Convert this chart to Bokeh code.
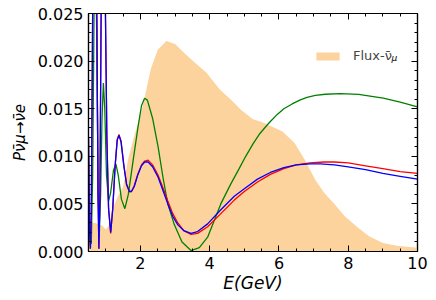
from bokeh.plotting import figure
from bokeh.models import (Range1d, LinearAxis, Label, Legend, LegendItem, PrintfTickFormatter,
                          SingleIntervalTicker, CustomJSTickFormatter)
from bokeh.embed import file_html
from bokeh.resources import INLINE

# ---- data ----
flux_E = [0.5, 0.7, 0.9, 1.0, 1.1, 1.2, 1.35, 1.5, 1.65, 1.85, 2.05, 2.3, 2.5, 2.75, 3.0, 3.25,
          3.55, 3.9, 4.3, 4.6, 4.9, 5.25, 5.5, 5.7, 6.1, 6.45, 6.75, 7.05, 7.3, 7.6, 7.9, 8.25,
          8.6, 9.0, 9.4, 9.7, 10.0]
flux_P = [0.0030, 0.0030, 0.0027, 0.0023, 0.0028, 0.0045, 0.0058, 0.0068, 0.0098, 0.0125, 0.0150,
          0.0192, 0.0212, 0.0221, 0.0218, 0.0209, 0.0199, 0.0188, 0.0170, 0.0160, 0.0149, 0.0139,
          0.0136, 0.0133, 0.0126, 0.0114, 0.0096, 0.0075, 0.0062, 0.0050, 0.0037, 0.0026, 0.0016,
          0.0009, 0.0006, 0.0005, 0.0004]

blue_E = [0.50, 0.53, 0.555, 0.58, 0.62, 0.68, 0.74, 0.775, 0.80, 0.83, 0.87, 0.93, 0.98, 1.03,
          1.08, 1.14, 1.20, 1.27, 1.33, 1.38, 1.44, 1.52, 1.60, 1.68, 1.74, 1.82, 1.92, 2.03, 2.12,
          2.22, 2.35, 2.51, 2.65, 2.79, 2.93, 3.08, 3.25, 3.46, 3.65, 3.94, 4.3, 4.71, 5.0, 5.38,
          5.75, 6.14, 6.5, 6.9, 7.2, 7.6, 8.0, 8.5, 9.0, 9.5, 10.0]
blue_P = [0.012, 0.002, 0.0003, 0.004, 0.025, 0.045, 0.025, 0.006, 0.0003, 0.006, 0.028, 0.040,
          0.028, 0.012, 0.0045, 0.0020, 0.0045, 0.0090, 0.0117, 0.0122, 0.0115, 0.0090, 0.0070,
          0.0063, 0.0063, 0.0068, 0.0080, 0.0090, 0.0094, 0.0094, 0.0089, 0.0078, 0.0064, 0.0050,
          0.0037, 0.0028, 0.0022, 0.0019, 0.0021, 0.0029, 0.0043, 0.0058, 0.0066, 0.0076, 0.0083,
          0.0088, 0.0091, 0.0092, 0.0092, 0.0091, 0.0089, 0.0086, 0.0082, 0.0079, 0.0076]

red_E = [0.50, 0.53, 0.555, 0.58, 0.62, 0.68, 0.74, 0.775, 0.80, 0.83, 0.87, 0.93, 0.98, 1.03,
         1.08, 1.14, 1.20, 1.27, 1.33, 1.38, 1.44, 1.52, 1.60, 1.68, 1.74, 1.82, 1.92, 2.03, 2.12,
         2.22, 2.35, 2.51, 2.65, 2.79, 2.93, 3.08, 3.25, 3.46, 3.65, 3.94, 4.3, 4.71, 5.0, 5.38,
         5.75, 6.14, 6.5, 6.9, 7.3, 7.6, 8.0, 8.5, 9.0, 9.5, 10.0]
red_P = [0.012, 0.002, 0.0003, 0.004, 0.025, 0.045, 0.025, 0.006, 0.0003, 0.006, 0.028, 0.040,
         0.028, 0.012, 0.0045, 0.0019, 0.0045, 0.0091, 0.0118, 0.0123, 0.0116, 0.0091, 0.0071,
         0.0063, 0.0063, 0.0069, 0.0081, 0.0091, 0.0095, 0.0096, 0.0091, 0.0080, 0.0067, 0.0053,
         0.0040, 0.0030, 0.0022, 0.0018, 0.0019, 0.0026, 0.0039, 0.0054, 0.0063, 0.0073, 0.0081,
         0.0087, 0.0091, 0.0093, 0.0094, 0.0094, 0.0093, 0.0090, 0.0087, 0.0084, 0.0082]

green_E = [0.50, 0.54, 0.58, 0.62, 0.66, 0.70, 0.74, 0.78, 0.81, 0.85, 0.89, 0.93, 0.97, 1.02,
           1.08, 1.14, 1.22, 1.29, 1.36, 1.45, 1.55, 1.65, 1.79, 1.93, 2.03, 2.12, 2.2, 2.35, 2.51,
           2.65, 2.79, 2.98, 3.2, 3.46, 3.7, 3.94, 4.32, 4.61, 4.85, 5.04, 5.25, 5.45, 5.71, 5.95,
           6.14, 6.38, 6.6, 6.81, 7.05, 7.34, 7.77, 8.3, 9.01, 9.5, 10.0]
green_P = [0.010, 0.003, 0.0008, 0.008, 0.025, 0.032, 0.022, 0.006, 0.0015, 0.006, 0.014, 0.0177,
           0.015, 0.008, 0.0053, 0.0062, 0.0085, 0.0092, 0.0080, 0.0055, 0.0045, 0.0060, 0.0096,
           0.0131, 0.0153, 0.0161, 0.0159, 0.0140, 0.0110, 0.0078, 0.0050, 0.0028, 0.0010, 0.0001,
           0.0004, 0.0015, 0.0050, 0.0071, 0.0087, 0.0100, 0.0113, 0.0124, 0.0135, 0.0144,
           0.0150, 0.0155, 0.0159, 0.0162, 0.0164, 0.01652, 0.01658, 0.0165, 0.0161, 0.0157, 0.0152]

x_min, x_max = 0.5, 10.0
y_min, y_max = 0.0, 0.025

FONT = "DejaVu Sans"
W, H = 436, 300
FL, FB = 88, 251   # frame left / bottom in canvas pixels

p = figure(width=W, height=H, output_backend="svg", toolbar_location=None,
           x_range=Range1d(x_min, x_max), y_range=Range1d(y_min, y_max),
           min_border_left=88, min_border_right=19, min_border_top=13, min_border_bottom=49)
p.grid.visible = False
p.outline_line_color = "black"
p.outline_line_width = 1.2
p.background_fill_color = "white"

flux = p.varea(x=flux_E, y1=0, y2=flux_P, fill_color="#FDD39D")
p.line(green_E, green_P, line_color="green", line_width=1.3)
p.line(red_E, red_P, line_color="red", line_width=1.3)
p.line(blue_E, blue_P, line_color="blue", line_width=1.3)

# axes
xax = p.below[0]
yax = p.left[0]
xax.ticker = SingleIntervalTicker(interval=2, num_minor_ticks=4)
yax.ticker = SingleIntervalTicker(interval=0.005, num_minor_ticks=5)
yax.formatter = PrintfTickFormatter(format="%.3f")
blank = CustomJSTickFormatter(code="return ''")
top_ax = LinearAxis(ticker=SingleIntervalTicker(interval=2, num_minor_ticks=4), formatter=blank)
right_ax = LinearAxis(ticker=SingleIntervalTicker(interval=0.005, num_minor_ticks=5), formatter=blank)
p.add_layout(top_ax, "above")
p.add_layout(right_ax, "right")

for ax in (xax, yax, top_ax, right_ax):
    ax.major_tick_in = 6
    ax.major_tick_out = 0
    ax.minor_tick_in = 3
    ax.minor_tick_out = 0
    ax.axis_line_color = "black"
    ax.axis_line_width = 1.2
    ax.major_tick_line_color = "black"
    ax.minor_tick_line_color = "black"
    ax.major_label_text_font = FONT
    ax.major_label_text_font_size = "16px"
    ax.major_label_text_color = "black"
    ax.major_label_standoff = 5
top_ax.major_label_standoff = 0
right_ax.major_label_standoff = 0

# axis labels
xax.axis_label = "E(GeV)"
xax.axis_label_text_font = FONT
xax.axis_label_text_font_size = "17px"
xax.axis_label_text_font_style = "italic"
xax.axis_label_text_color = "black"
xax.axis_label_standoff = 1

yax.axis_label = "P\u03bd\u0304\u03bc\u2192\u03bd\u0304e"
yax.axis_label_text_font = FONT
yax.axis_label_text_font_size = "15px"
yax.axis_label_text_font_style = "italic"
yax.axis_label_text_color = "black"
yax.axis_label_standoff = 6

# legend
legend = Legend(items=[LegendItem(label="Flux-\u03bd\u0304", renderers=[flux])],
                location=(225, 188), orientation="vertical",
                glyph_width=29, glyph_height=10, label_standoff=11,
                label_text_font=FONT, label_text_font_size="13px",
                border_line_color=None, background_fill_alpha=0,
                padding=0, margin=0, spacing=0)
p.add_layout(legend)
p.add_layout(Label(x=391 - FL, y=FB - 62, x_units="screen", y_units="screen",
                   text="\u03bc", text_font=FONT, text_font_size="9px",
                   text_font_style="italic", text_color="black"))

open("out.html", "w").write(file_html(p, INLINE))
